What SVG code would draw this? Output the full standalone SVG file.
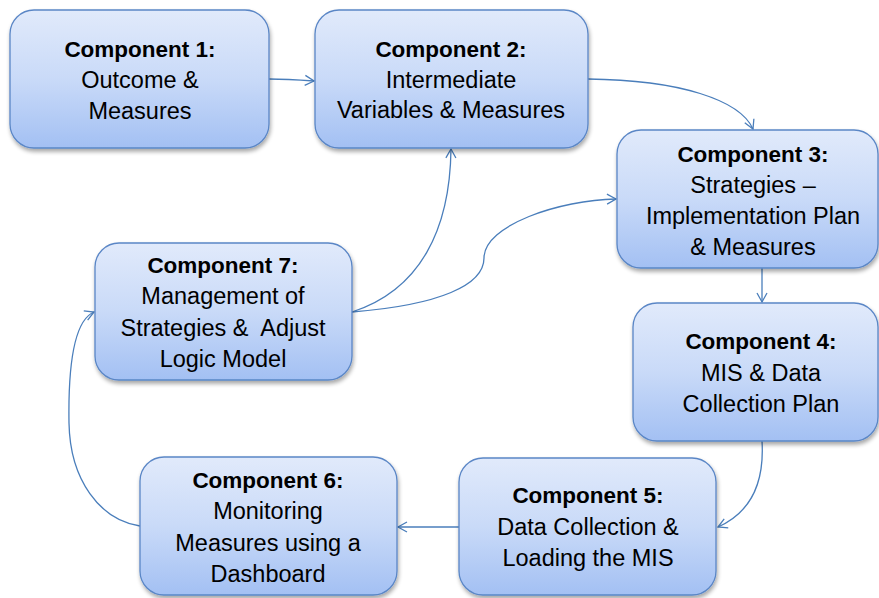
<svg xmlns="http://www.w3.org/2000/svg" width="879" height="598" viewBox="0 0 879 598">
<style>
.box{fill:url(#g);stroke:#5a86c6;stroke-width:1.3;filter:url(#sh)}
.t{font-family:"Liberation Sans",Arial,sans-serif;font-size:23.5px;fill:#000;text-anchor:middle}
.b{font-weight:bold;font-size:22.5px}
.c{fill:none;stroke:#4a7ebb;stroke-width:1.3;marker-end:url(#ah)}
</style>
<defs>
<linearGradient id="g" x1="0" y1="0" x2="0" y2="1">
<stop offset="0" stop-color="#e1eafb"/>
<stop offset="0.5" stop-color="#c9daf8"/>
<stop offset="1" stop-color="#a3c0f3"/>
</linearGradient>
<filter id="sh" x="-10%" y="-10%" width="130%" height="130%">
<feGaussianBlur in="SourceAlpha" stdDeviation="2"/>
<feOffset dx="1" dy="3" result="o"/>
<feComponentTransfer><feFuncA type="linear" slope="0.35"/></feComponentTransfer>
<feMerge><feMergeNode/><feMergeNode in="SourceGraphic"/></feMerge>
</filter>
<marker id="ah" markerWidth="12" markerHeight="12" refX="10" refY="6" orient="auto" markerUnits="userSpaceOnUse">
<path d="M1,1 L10,6 L1,11" fill="none" stroke="#4a7ebb" stroke-width="1.3"/>
</marker>
</defs>
<g id="connectors">
<path class="c" d="M269,79 C285,79 300,80 314,81"/>
<path class="c" d="M588,79 C680,80 740,100 753,129"/>
<path class="c" d="M762,268 L762,302"/>
<path class="c" d="M762,441 C765,490 745,515 718,527"/>
<path class="c" d="M459,527 L398,527"/>
<path class="c" d="M140,526 C100,520 70,480 69,423 C68,360 75,320 94,312"/>
<path class="c" d="M352,312 C420,290 450,230 451,149"/>
<path class="c" d="M352,312 C440,305 484,285 484,258 C484,225 560,200 616,199"/>
</g>
<g id="n1">
<rect class="box" x="10" y="10" width="259" height="138" rx="24"/>
<text class="t b" x="140" y="57">Component 1:</text>
<text class="t" x="140" y="88">Outcome &amp;</text>
<text class="t" x="140" y="119">Measures</text>
</g>
<g id="n2">
<rect class="box" x="315" y="10" width="273" height="138" rx="24"/>
<text class="t b" x="451" y="57">Component 2:</text>
<text class="t" x="451" y="88">Intermediate</text>
<text class="t" x="451" y="118">Variables &amp; Measures</text>
</g>
<g id="n3">
<rect class="box" x="617" y="130" width="261" height="138" rx="24"/>
<text class="t b" x="753" y="162">Component 3:</text>
<text class="t" x="753" y="193">Strategies –</text>
<text class="t" x="753" y="224">Implementation Plan</text>
<text class="t" x="753" y="255">&amp; Measures</text>
</g>
<g id="n4">
<rect class="box" x="633" y="303" width="245" height="138" rx="24"/>
<text class="t b" x="761" y="349">Component 4:</text>
<text class="t" x="761" y="381">MIS &amp; Data</text>
<text class="t" x="761" y="412">Collection Plan</text>
</g>
<g id="n5">
<rect class="box" x="459" y="458" width="257" height="137" rx="24"/>
<text class="t b" x="588" y="503">Component 5:</text>
<text class="t" x="588" y="535">Data Collection &amp;</text>
<text class="t" x="588" y="566">Loading the MIS</text>
</g>
<g id="n6">
<rect class="box" x="140" y="457" width="257" height="138" rx="24"/>
<text class="t b" x="268" y="488">Component 6:</text>
<text class="t" x="268" y="519">Monitoring</text>
<text class="t" x="268" y="551">Measures using a</text>
<text class="t" x="268" y="582">Dashboard</text>
</g>
<g id="n7">
<rect class="box" x="95" y="243" width="257" height="137" rx="24"/>
<text class="t b" x="223" y="273">Component 7:</text>
<text class="t" x="223" y="304">Management of</text>
<text class="t" x="223" y="336" xml:space="preserve">Strategies &amp;  Adjust</text>
<text class="t" x="223" y="367">Logic Model</text>
</g>
</svg>
